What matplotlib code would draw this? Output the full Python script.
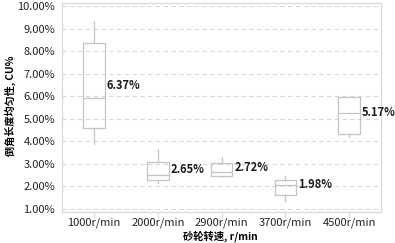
import matplotlib

matplotlib.use("Agg")
import matplotlib.pyplot as plt

plt.rcParams["font.family"] = ["Noto Sans CJK SC", "DejaVu Sans"]

speeds = ["1000r/min", "2000r/min", "2900r/min", "3700r/min", "4500r/min"]
whis_lo = [3.87, 2.14, 2.41, 1.37, 4.21]
q1 = [4.58, 2.27, 2.45, 1.62, 4.31]
median = [5.91, 2.51, 2.66, 2.07, 5.24]
q3 = [8.37, 3.10, 3.03, 2.29, 5.98]
whis_hi = [9.35, 3.66, 3.29, 2.46, 5.98]
mean = [6.37, 2.65, 2.72, 1.98, 5.17]

BOX = "#c4c4c4"
GRID = "#d9d9d9"

stats = [
    {"label": s, "whislo": a, "q1": b, "med": c, "q3": d, "whishi": e, "mean": m}
    for s, a, b, c, d, e, m in zip(speeds, whis_lo, q1, median, q3, whis_hi, mean)
]

fig = plt.figure(figsize=(3.95, 2.43), dpi=100)
ax = fig.add_axes([0.157, 0.128, 0.808, 0.858])

pos = list(range(len(speeds)))
ax.bxp(stats, positions=pos, widths=0.34, showfliers=False, showcaps=False,
       boxprops={"color": BOX, "lw": 0.9},
       whiskerprops={"color": BOX, "lw": 0.9},
       medianprops={"color": BOX, "lw": 0.9}, zorder=3)

for x, m in zip(pos, mean):
    ax.text(x + 0.2, m + 0.1, f"{m:.2f}%", fontsize=8, fontweight="bold",
            ha="left", va="center", color="#1a1a1a", zorder=4)

ax.set_xlim(-0.5, len(speeds) - 0.5)
ax.set_ylim(0.87, 10.12)
ax.set_yticks([i for i in range(1, 11)])
ax.set_yticklabels([f"{i:.2f}%" for i in range(1, 11)])
ax.yaxis.grid(True, ls=(0, (4, 3)), color=GRID, lw=0.8)
ax.set_axisbelow(True)
ax.tick_params(axis="y", length=0, pad=5, labelsize=8, labelcolor="#222222")
ax.tick_params(axis="x", length=4, width=0.8, color=GRID, pad=0, labelsize=8,
               labelcolor="#222222")
for sp in ax.spines.values():
    sp.set_color(GRID)
    sp.set_linewidth(0.9)

fig.text(0.557, 1 - 236.5 / 243, "砂轮转速, r/min", fontsize=7.4,
         fontweight="bold", ha="center", va="center")
fig.text(10 / 395, 1 - 106 / 243, "倒角长度均匀性, CU%", fontsize=7.3,
         fontweight="bold", ha="center", va="center", rotation=90)

fig.savefig("out.png", dpi=100)
